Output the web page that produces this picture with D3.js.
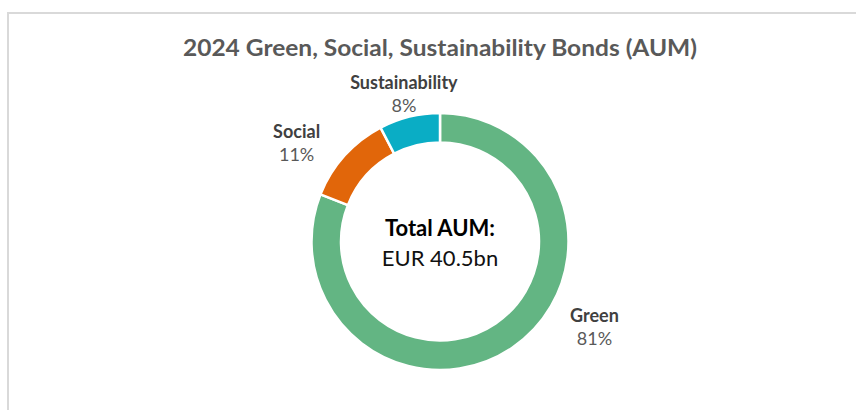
<!DOCTYPE html>
<html>
<head>
<meta charset="utf-8">
<script src="https://cdn.jsdelivr.net/npm/d3@7"></script>
<style>
  body { margin: 0; background: #fff; }
  svg { display: block; font-family: Lato, "Open Sans", sans-serif; }
</style>
</head>
<body>
<svg width="856" height="410"></svg>
<script>
// data (EUR bn)
var categories = ["Green", "Social", "Sustainability"];
var values = [32.8, 4.6, 3.1];
var colors = ["#63b583", "#e1660a", "#0aadc5"];
// where Excel put the labels: angle (deg, clockwise from top), distance from centre
var labelAngle = [117.4, -54.1, -13.3];
var labelDist = [174, 177, 157];

var svg = d3.select("svg"),
  width = +svg.attr("width"),
  height = +svg.attr("height");

var cx = 440,
  cy = 241.5,
  outerR = 128.5,
  innerR = 99;

// chart frame (only left and top edges visible)
svg
  .append("path")
  .attr("d", "M8," + height + " V13 H" + width)
  .attr("fill", "none")
  .attr("stroke", "#d9d9d9")
  .attr("stroke-width", 2);

svg
  .append("text")
  .attr("x", cx)
  .attr("y", 56)
  .attr("text-anchor", "middle")
  .attr("textLength", 514)
  .attr("lengthAdjust", "spacingAndGlyphs")
  .style("font-size", "23px")
  .style("font-weight", "bold")
  .style("fill", "#595959")
  .text("2024 Green, Social, Sustainability Bonds (AUM)");

var data = categories.map(function (c, i) {
  return { name: c, value: values[i], color: colors[i], i: i };
});
var total = d3.sum(values);

var pie = d3
  .pie()
  .sort(null)
  .value(function (d) {
    return d.value;
  });

var arc = d3.arc().innerRadius(innerR).outerRadius(outerR);

var g = svg.append("g").attr("transform", "translate(" + cx + "," + cy + ")");

g.selectAll("path")
  .data(pie(data))
  .enter()
  .append("path")
  .attr("d", arc)
  .style("fill", function (d) {
    return d.data.color;
  })
  .style("stroke", "#fff")
  .style("stroke-width", 2.5);

var label = g
  .selectAll("g.label")
  .data(data)
  .enter()
  .append("g")
  .attr("class", "label")
  .attr("transform", function (d) {
    var p = d3.pointRadial((labelAngle[d.i] * Math.PI) / 180, labelDist[d.i]);
    return "translate(" + p[0] + "," + p[1] + ")";
  });

label
  .append("text")
  .attr("text-anchor", "middle")
  .style("font-size", "18px")
  .style("font-weight", "bold")
  .style("fill", "#404040")
  .text(function (d) {
    return d.name;
  });

label
  .append("text")
  .attr("text-anchor", "middle")
  .attr("y", 23.5)
  .style("font-size", "18px")
  .style("fill", "#595959")
  .text(function (d) {
    return Math.round((d.value / total) * 100) + "%";
  });

// centre text
g.append("text")
  .attr("text-anchor", "middle")
  .attr("y", -6)
  .style("font-size", "22px")
  .style("font-weight", "bold")
  .style("fill", "#000")
  .text("Total AUM:");

g.append("text")
  .attr("text-anchor", "middle")
  .attr("y", 24.5)
  .style("font-size", "22px")
  .style("fill", "#111")
  .text("EUR " + d3.format(".1f")(total) + "bn");
</script>
</body>
</html>
